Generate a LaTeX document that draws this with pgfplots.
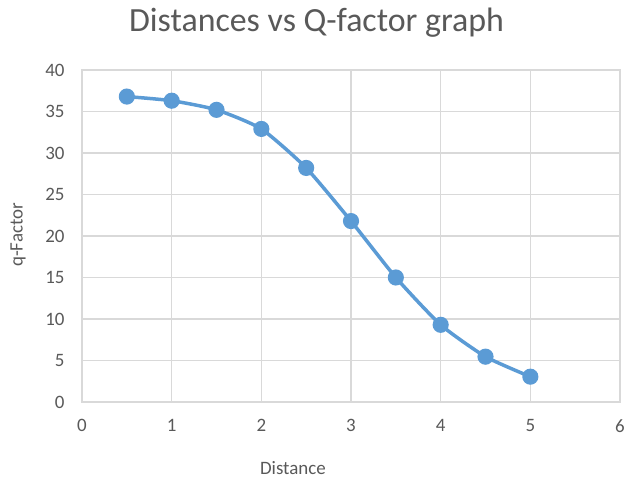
\documentclass[border=0pt]{standalone}
\usepackage{pgfplots}
\pgfplotsset{compat=1.18}
\usepackage{fontspec}
\setmainfont{Carlito}
\definecolor{linebl}{HTML}{5B9BD5}
\definecolor{gridg}{HTML}{D9D9D9}
\definecolor{txt}{HTML}{595959}
\begin{document}
\begin{tikzpicture}[x=1bp,y=1bp]
\useasboundingbox (0,0) rectangle (626,480);
\begin{axis}[
  at={(82bp,78bp)}, anchor=south west,
  scale only axis, width=538bp, height=332bp,
  xmin=0, xmax=6, ymin=0, ymax=40,
  xtick={0,1,...,6}, ytick={0,5,...,40},
  grid=major,
  major grid style={gridg, line width=1.2bp},
  axis line style={gridg, line width=1.2bp},
  major tick length=0pt,
  /pgf/number format/assume math mode=true,
  tick label style={font=\fontsize{19}{22}\selectfont, text=txt},
  xticklabel style={yshift=-14bp},
  yticklabel style={xshift=-14bp},
  title={Distances vs Q-factor graph},
  title style={font=\fontsize{34}{38}\selectfont, text=txt, at={(0.436,1.126)}, anchor=center},
  xlabel={Distance},
  ylabel={q-Factor},
  xlabel style={font=\fontsize{19}{22}\selectfont, text=txt, at={(0.392,-0.199)}, anchor=center},
  ylabel style={font=\fontsize{19}{22}\selectfont, text=txt, at={(-0.119,0.503)}, anchor=center},
]
\addplot[linebl, line width=3.5bp, smooth, tension=0.35, mark=*, mark size=6.3bp, mark options={solid, fill=linebl, draw=none}]
coordinates {(0.5,36.8) (1,36.3) (1.5,35.2) (2,32.9) (2.5,28.2) (3,21.8) (3.5,15.0) (4,9.3) (4.5,5.46) (5,3.05)};
\end{axis}
\end{tikzpicture}
\end{document}
